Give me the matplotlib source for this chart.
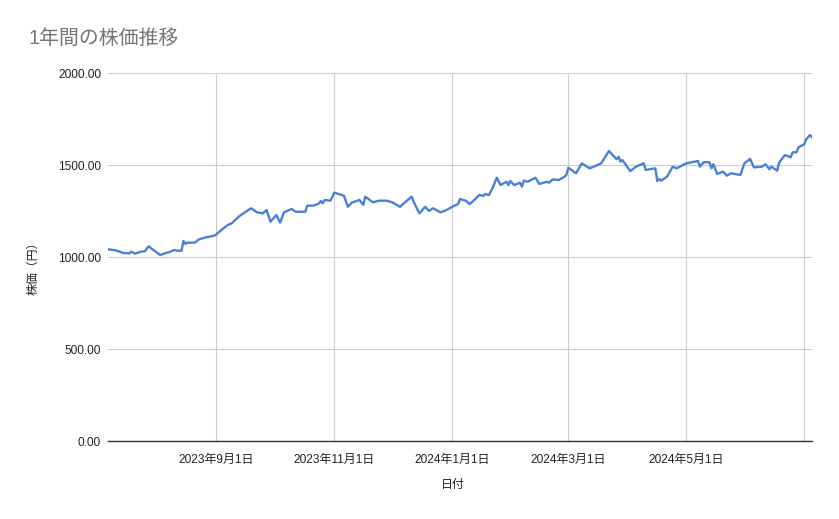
import matplotlib
matplotlib.use("Agg")
import matplotlib.pyplot as plt
import matplotlib.dates as mdates
import matplotlib.ticker as mticker
import pandas as pd

plt.rcParams['font.family'] = ['Liberation Sans', 'Noto Sans CJK JP', 'DejaVu Sans']

title = "1年間の株価推移"
x_label = "日付"
y_label = "株価（円）"

dates = [
    "2023-07-07", "2023-07-11", "2023-07-15", "2023-07-18", "2023-07-19", "2023-07-21",
    "2023-07-24", "2023-07-26", "2023-07-28", "2023-07-30", "2023-08-03", "2023-08-06",
    "2023-08-08", "2023-08-10", "2023-08-12", "2023-08-14", "2023-08-15", "2023-08-16",
    "2023-08-17", "2023-08-21", "2023-08-23", "2023-08-26", "2023-08-28", "2023-08-31",
    "2023-09-01", "2023-09-04", "2023-09-07", "2023-09-09", "2023-09-13", "2023-09-15",
    "2023-09-19", "2023-09-22", "2023-09-25", "2023-09-27", "2023-09-29", "2023-10-02",
    "2023-10-04", "2023-10-06", "2023-10-10", "2023-10-12", "2023-10-17", "2023-10-18",
    "2023-10-21", "2023-10-24", "2023-10-25", "2023-10-26", "2023-10-27", "2023-10-30",
    "2023-11-01", "2023-11-06", "2023-11-08", "2023-11-10", "2023-11-14", "2023-11-16",
    "2023-11-17", "2023-11-21", "2023-11-24", "2023-11-28", "2023-12-01", "2023-12-05",
    "2023-12-08", "2023-12-11", "2023-12-12", "2023-12-15", "2023-12-18", "2023-12-20",
    "2023-12-22", "2023-12-26", "2023-12-29", "2024-01-01", "2024-01-04", "2024-01-05",
    "2024-01-08", "2024-01-10", "2024-01-12", "2024-01-15", "2024-01-17", "2024-01-18",
    "2024-01-20", "2024-01-22", "2024-01-24", "2024-01-26", "2024-01-29", "2024-01-30",
    "2024-01-31", "2024-02-02", "2024-02-05", "2024-02-06", "2024-02-07", "2024-02-09",
    "2024-02-13", "2024-02-15", "2024-02-19", "2024-02-20", "2024-02-22", "2024-02-25",
    "2024-02-28", "2024-02-29", "2024-03-01", "2024-03-05", "2024-03-08", "2024-03-12",
    "2024-03-15", "2024-03-18", "2024-03-22", "2024-03-26", "2024-03-27", "2024-03-28",
    "2024-03-29", "2024-04-02", "2024-04-05", "2024-04-09", "2024-04-10", "2024-04-15",
    "2024-04-16", "2024-04-17", "2024-04-18", "2024-04-21", "2024-04-24", "2024-04-26",
    "2024-05-01", "2024-05-03", "2024-05-07", "2024-05-08", "2024-05-10", "2024-05-13",
    "2024-05-14", "2024-05-15", "2024-05-17", "2024-05-20", "2024-05-22", "2024-05-24",
    "2024-05-29", "2024-05-31", "2024-06-03", "2024-06-05", "2024-06-09", "2024-06-11",
    "2024-06-13", "2024-06-14", "2024-06-17", "2024-06-18", "2024-06-21", "2024-06-24",
    "2024-06-25", "2024-06-27", "2024-06-28", "2024-07-01", "2024-07-02", "2024-07-03",
    "2024-07-04", "2024-07-05",
]

prices = [
    1042, 1036, 1022, 1020, 1029, 1018,
    1029, 1031, 1058, 1042, 1011, 1022,
    1027, 1038, 1034, 1034, 1087, 1071,
    1078, 1078, 1096, 1105, 1110, 1116,
    1123, 1150, 1174, 1183, 1223, 1237,
    1265, 1243, 1237, 1255, 1192, 1228,
    1187, 1243, 1261, 1246, 1246, 1279,
    1279, 1290, 1304, 1292, 1310, 1306,
    1350, 1333, 1273, 1295, 1310, 1283,
    1328, 1297, 1306, 1306, 1297, 1273,
    1301, 1328, 1301, 1237, 1273, 1250,
    1265, 1243, 1255, 1273, 1288, 1315,
    1306, 1288, 1306, 1337, 1332, 1342,
    1337, 1379, 1431, 1391, 1409, 1391,
    1413, 1391, 1404, 1382, 1415, 1409,
    1431, 1397, 1409, 1404, 1422, 1418,
    1436, 1446, 1485, 1455, 1509, 1482,
    1495, 1509, 1576, 1531, 1545, 1518,
    1527, 1467, 1491, 1509, 1473, 1482,
    1413, 1424, 1415, 1436, 1491, 1482,
    1509, 1513, 1522, 1491, 1515, 1515,
    1482, 1504, 1451, 1464, 1442, 1455,
    1446, 1509, 1533, 1487, 1491, 1504,
    1477, 1491, 1469, 1513, 1554, 1542,
    1569, 1569, 1596, 1613, 1640, 1651,
    1663, 1651,
]

tick_dates = ["2023-09-01", "2023-11-01", "2024-01-01", "2024-03-01", "2024-05-01", "2024-07-01"]
tick_labels = ["2023年9月1日", "2023年11月1日", "2024年1月1日", "2024年3月1日", "2024年5月1日", ""]
y_ticks = [0, 500, 1000, 1500, 2000]

W, H = 839, 519
fig = plt.figure(figsize=(W / 100, H / 100), dpi=100)
ax = fig.add_axes([108 / W, (H - 441) / H, (812 - 108) / W, (441 - 73) / H])

x = pd.to_datetime(dates)
ax.plot(x, prices, color='#4a80d6', linewidth=1.7, solid_joinstyle='round', zorder=3)

ax.set_xlim(x[0], x[-1])
ax.set_ylim(0, 2000)

ax.set_xticks(pd.to_datetime(tick_dates))
ax.set_xticklabels(tick_labels)
ax.set_yticks(y_ticks)
ax.yaxis.set_major_formatter(mticker.FuncFormatter(lambda v, p: f"{v:.2f}"))

ax.grid(True, color='#cccccc', linewidth=0.8, zorder=0)
for s in ['left', 'right', 'top']:
    ax.spines[s].set_visible(False)
ax.spines['bottom'].set_color('#333333')
ax.spines['bottom'].set_linewidth(1.0)
ax.spines['bottom'].set_zorder(4)

ax.tick_params(axis='both', length=0, labelsize=8.6, labelcolor='#222222')
ax.tick_params(axis='y', pad=5)
ax.tick_params(axis='x', pad=9)

fig.text(28 / W, 1 - 38 / H, title, fontsize=14.3, color='#757575',
         ha='left', va='center')
fig.text(453 / W, 1 - 485 / H, x_label, fontsize=8.6, color='#222222',
         ha='center', va='center')
fig.text(33 / W, 1 - 265 / H, y_label, fontsize=8.6, color='#222222',
         ha='center', va='center', rotation=90)

fig.savefig("out.png", dpi=100)
